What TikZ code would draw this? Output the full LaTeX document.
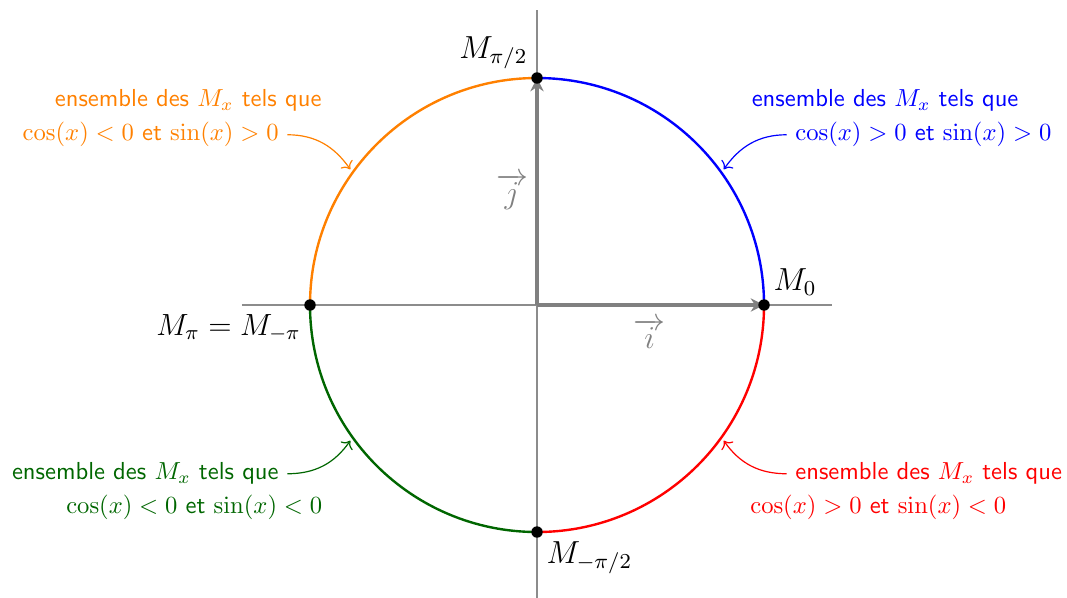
\documentclass[tikz,border=0pt]{standalone}
\usetikzlibrary{arrows.meta}
\definecolor{dgreen}{rgb}{0,0.4,0}
\tikzset{
  axis/.style={black!45, line width=0.4pt},
  vect/.style={gray, line width=1.2pt, -{Stealth[length=5pt,width=5pt]}},
  arcline/.style={line width=0.9pt},
  pt/.style={circle, fill=black, inner sep=0pt, minimum size=4.3pt},
  lab/.style={font=\sffamily, scale=0.925},
  annot/.style={->, line width=0.45pt},
}
\begin{document}
\begin{tikzpicture}
\useasboundingbox (-7.097,-3.859) rectangle (7.004,4.031);
% axes
\coordinate (xl) at (-3.9,0);
\coordinate (xr) at (3.9,0);
\coordinate (yb) at (0,-3.9);
\coordinate (yt) at (0,3.9);
\coordinate (O) at (0,0);
\draw[axis] (xl) -- (xr);
\draw[axis] (yb) -- (yt);
% arcs
\draw[arcline, blue] (3,0) arc[start angle=0, end angle=90, radius=3];
\draw[arcline, orange] (0,3) arc[start angle=90, end angle=180, radius=3];
\draw[arcline, dgreen] (-3,0) arc[start angle=180, end angle=270, radius=3];
\draw[arcline, red] (0,-3) arc[start angle=270, end angle=360, radius=3];
% vectors
\draw[vect] (O) -- (3,0);
\draw[vect] (O) -- (0,3);
% points
\node[pt] (M0) at (3,0) {};
\node[pt] (Mpi2) at (0,3) {};
\node[pt] (Mpi) at (-3,0) {};
\node[pt] (Mmpi2) at (0,-3) {};
\node[gray] (vi) at (1.49,-0.38) {\large$\overrightarrow{i}$};
\node[gray] (vj) at (-0.33,1.50) {\large$\overrightarrow{j}$};
% point labels
\node[anchor=south west, inner sep=2pt] (l0) at (3.05,0.05) {\large$M_0$};
\node[anchor=south east, inner sep=2pt] (lpi2) at (-0.05,3.05) {\large$M_{\pi/2}$};
\node[anchor=north east, inner sep=2pt, scale=0.96] (lpi) at (-3.05,-0.05) {\large$M_\pi = M_{-\pi}$};
\node[anchor=north west, inner sep=2pt] (lmpi2) at (0.05,-3.05) {\large$M_{-\pi/2}$};
% circle points for annotations
\coordinate (cb) at (36:3.05);
\coordinate (co) at (144:3.05);
\coordinate (cg) at (216:3.05);
\coordinate (cr) at (-36:3.05);
% blue annotation
\node[lab, blue] (b1) at (4.60,2.70) {ensemble des $M_x$ tels que};
\node[lab, blue, anchor=west] (b2) at (3.30,2.25) {$\cos(x)>0$ et $\sin(x)>0$};
\draw[annot, blue] (b2.west) to[out=180, in=55] (cb);
% orange annotation
\node[lab, orange] (o1) at (-4.61,2.70) {ensemble des $M_x$ tels que};
\node[lab, orange, anchor=east] (o2) at (-3.30,2.25) {$\cos(x)<0$ et $\sin(x)>0$};
\draw[annot, orange] (o2.east) to[out=0, in=125] (co);
% green annotation
\node[lab, dgreen, anchor=east] (g1) at (-3.30,-2.23) {ensemble des $M_x$ tels que};
\node[lab, dgreen] (g2) at (-4.53,-2.68) {$\cos(x)<0$ et $\sin(x)<0$};
\draw[annot, dgreen] (g1.east) to[out=0, in=-125] (cg);
% red annotation
\node[lab, red, anchor=west] (r1) at (3.30,-2.23) {ensemble des $M_x$ tels que};
\node[lab, red] (r2) at (4.51,-2.68) {$\cos(x)>0$ et $\sin(x)<0$};
\draw[annot, red] (r1.west) to[out=180, in=-55] (cr);
\end{tikzpicture}
\end{document}
